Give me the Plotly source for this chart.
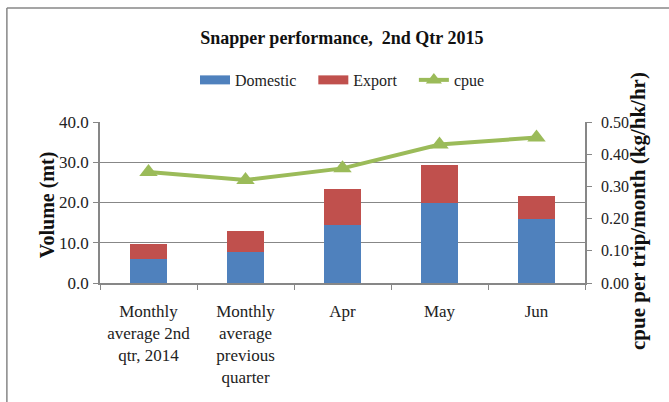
import plotly.graph_objects as go

categories = ["Monthly<br>average 2nd<br>qtr, 2014", "Monthly<br>average<br>previous<br>quarter",
              "Apr", "May", "Jun"]
domestic = [6.0, 7.6, 14.3, 19.9, 15.9]
export = [3.8, 5.2, 9.0, 9.5, 5.6]
cpue = [0.345, 0.32, 0.356, 0.43, 0.452]

FONT = "Liberation Serif"
GRID = "#878787"
BLUE, RED, GREEN = "#4F81BD", "#C0504D", "#9BBB59"

fig = go.Figure()

fig.add_trace(go.Bar(
    x=categories, y=domestic, name="Domestic", showlegend=False,
    marker=dict(color=BLUE, line=dict(width=0))
))
fig.add_trace(go.Bar(
    x=categories, y=export, name="Export", showlegend=False,
    marker=dict(color=RED, line=dict(width=0))
))
fig.add_trace(go.Scatter(
    x=categories, y=cpue, name="cpue", yaxis="y2", showlegend=False,
    mode="lines+markers",
    line=dict(color=GREEN, width=4),
    marker=dict(symbol="triangle-up", size=16, color=GREEN)
))

# legend entries drawn as wide swatches, like the original
for name, color in [("Domestic", BLUE), ("Export", RED)]:
    fig.add_trace(go.Scatter(x=[None], y=[None], name=name + "   ", mode="lines",
                             line=dict(color=color, width=9)))
fig.add_trace(go.Scatter(x=[None], y=[None], name="cpue", mode="lines+markers",
                         line=dict(color=GREEN, width=4),
                         marker=dict(symbol="triangle-up", size=14, color=GREEN)))

fig.update_layout(
    width=669, height=402,
    margin=dict(l=100, r=84, t=122, b=119),
    paper_bgcolor="white", plot_bgcolor="white",
    font=dict(family=FONT, size=16, color="#222222"),
    barmode="stack", bargap=0.61,
    legend=dict(orientation="h", x=0.5, xanchor="center", y=1.261, yanchor="middle",
                font=dict(size=16), traceorder="normal", itemwidth=30),
    title=dict(text="<b>Snapper performance,  2nd Qtr 2015</b>",
               x=0.511, xanchor="center", y=0.905, yanchor="middle",
               font=dict(family=FONT, size=18, color="#111111")),
    xaxis=dict(showline=True, linecolor=GRID, linewidth=1.5,
               ticks="outside", tickson="boundaries", ticklen=5, tickcolor=GRID,
               tickfont=dict(size=17), ticklabelstandoff=12),
    yaxis=dict(range=[0, 40], dtick=10, tickformat=".1f",
               showgrid=True, gridcolor=GRID, gridwidth=1,
               showline=True, linecolor=GRID, linewidth=1.5,
               ticks="outside", ticklen=5, tickcolor=GRID,
               tickfont=dict(size=17), ticklabelstandoff=1),
    yaxis2=dict(range=[0, 0.5], dtick=0.1, tickformat=".2f",
                overlaying="y", side="right", showgrid=False,
                showline=True, linecolor=GRID, linewidth=1.5,
                ticks="outside", ticklen=5, tickcolor=GRID,
                tickfont=dict(size=16), ticklabelstandoff=6),
)

# axis titles
fig.add_annotation(text="<b>Volume (mt)</b>", xref="paper", yref="paper",
                   x=-0.137, y=0.484, textangle=-90, showarrow=False,
                   font=dict(size=20, color="#111111"))
fig.add_annotation(text="<b>cpue per trip/month (kg/hk/hr)</b>", xref="paper", yref="paper",
                   x=1.138, y=0.447, textangle=-90, showarrow=False,
                   font=dict(size=21, color="#111111"))

# chart-area border (top and left edges visible in the crop)
fig.add_shape(type="line", xref="paper", yref="paper",
              x0=-0.192, x1=1.2, y0=1.708, y1=1.708,
              line=dict(color=GRID, width=1.5))
fig.add_shape(type="line", xref="paper", yref="paper",
              x0=-0.192, x1=-0.192, y0=1.708, y1=-0.8,
              line=dict(color=GRID, width=1.5))

fig.write_html("out.html", config={"displayModeBar": False},
               post_script="document.body.style.margin='0';")
